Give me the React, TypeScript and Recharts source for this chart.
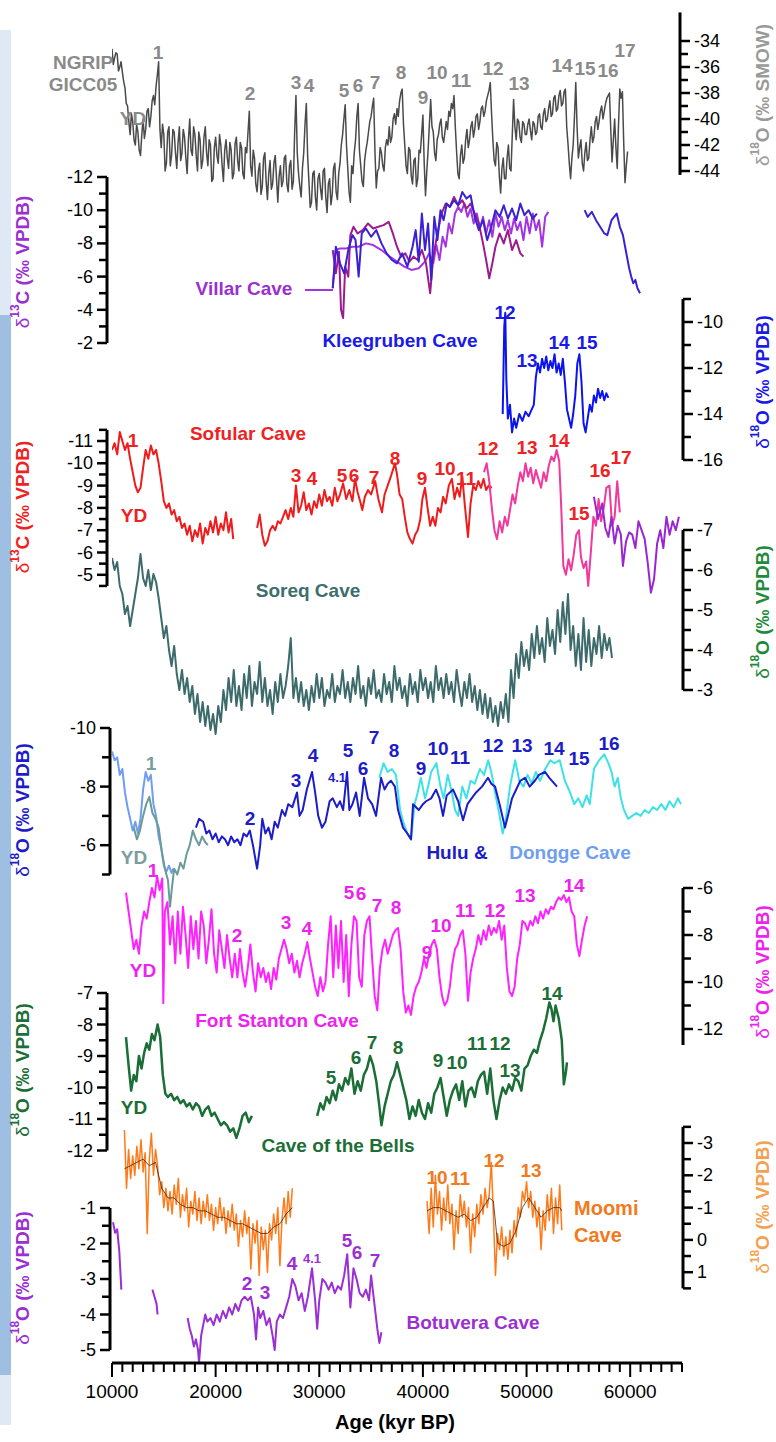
import React from "react";
import { LineChart, Line, XAxis, YAxis, ReferenceLine } from "recharts";

const FONT = '"Liberation Sans", Arial, Helvetica, sans-serif';
const AGE_MIN = 10000;
const AGE_MAX = 65000;
const W = 776;
const H = 1442;
const PLOT_LEFT = 112;
const PLOT_RIGHT = 682;
const Y_AXIS_W = 30;

// ---------- data ----------

// NGRIP GICC05 d18O, every 125 yr from 10 ka
const NGRIP_START = 10000;
const NGRIP_STEP = 125;
const NGRIP_D18O = [
  -34.6, -35.8, -35.3, -34.9, -35.0, -36.3, -36.0, -35.6, -36.4, -37.1, -37.6, -38.8, -39.0, -40.2, -41.2, -39.6,
  -40.2, -41.6, -42.0, -40.4, -41.0, -42.4, -42.8, -41.2, -40.0, -41.5, -40.8, -39.4, -39.2, -40.6, -39.8, -38.6,
  -38.2, -38.9, -37.5, -36.6, -35.6, -40.8, -42.2, -40.4, -41.2, -44.0, -43.4, -41.0, -40.6, -43.6, -42.8, -40.8,
  -41.0, -42.6, -43.8, -41.8, -40.6, -43.2, -42.6, -40.8, -41.4, -43.0, -44.2, -41.6, -40.0, -42.4, -42.8, -40.6,
  -41.2, -42.8, -44.0, -41.0, -41.6, -43.8, -43.2, -41.4, -40.6, -42.6, -43.6, -41.6, -42.0, -44.8, -44.6, -42.2,
  -41.4, -42.8, -43.4, -41.2, -42.0, -43.6, -44.8, -42.4, -41.6, -43.0, -43.8, -41.8, -42.4, -44.6, -44.2, -41.9,
  -41.4, -43.2, -44.0, -41.8, -42.2, -44.2, -44.6, -42.2, -42.6, -41.0, -39.4, -43.6, -44.4, -42.4, -43.0, -45.0,
  -45.6, -44.0, -43.4, -45.8, -45.2, -43.0, -42.6, -44.8, -46.2, -44.2, -43.2, -45.4, -45.0, -43.4, -42.8, -44.6,
  -46.4, -44.4, -43.6, -45.2, -44.8, -43.0, -42.8, -45.0, -45.6, -43.6, -43.2, -45.4, -44.8, -41.0, -38.2, -42.6,
  -44.2, -45.2, -46.0, -43.8, -42.6, -40.4, -38.8, -42.8, -44.8, -46.8, -46.4, -44.2, -44.0, -46.0, -47.0, -44.6,
  -44.2, -45.4, -46.2, -44.0, -43.8, -46.0, -47.2, -45.0, -44.6, -46.6, -45.8, -43.8, -43.4, -45.6, -46.2, -44.2,
  -43.4, -42.0, -41.2, -40.0, -38.9, -42.0, -43.8, -45.6, -46.4, -43.6, -44.2, -42.6, -41.6, -39.8, -38.8, -42.4,
  -43.6, -44.8, -45.2, -43.2, -42.4, -41.8, -41.0, -40.2, -39.8, -39.0, -38.4, -42.6, -45.3, -44.0, -43.8, -42.2,
  -42.6, -43.6, -44.0, -42.2, -41.6, -42.0, -40.6, -41.8, -41.4, -40.0, -39.6, -40.4, -39.2, -39.8, -38.6, -38.0,
  -37.7, -40.4, -42.0, -43.6, -44.2, -42.2, -42.4, -44.4, -45.0, -43.2, -43.0, -45.2, -44.6, -42.4, -42.6, -41.2,
  -39.7, -43.4, -45.9, -44.0, -42.4, -40.4, -38.5, -40.6, -41.0, -42.6, -43.2, -41.6, -41.2, -40.4, -40.0, -41.4,
  -41.8, -41.0, -40.2, -40.8, -39.4, -39.8, -38.8, -39.2, -38.2, -40.6, -42.5, -44.2, -44.6, -42.8, -42.0, -43.4,
  -43.0, -41.6, -40.8, -42.2, -41.6, -40.6, -40.2, -41.4, -40.8, -39.8, -39.6, -40.8, -40.2, -39.2, -39.0, -39.8,
  -39.4, -38.6, -38.2, -37.8, -37.2, -39.6, -41.6, -43.2, -43.6, -41.8, -42.2, -44.4, -45.7, -43.8, -43.0, -44.6,
  -44.6, -43.0, -42.0, -43.8, -44.0, -41.2, -38.5, -40.6, -41.6, -40.0, -40.2, -41.4, -41.8, -40.2, -40.4, -41.2,
  -41.2, -40.4, -40.0, -40.9, -41.6, -40.2, -40.4, -41.2, -41.0, -39.8, -39.6, -40.6, -40.8, -39.6, -39.2, -40.2,
  -40.0, -39.2, -38.6, -39.8, -39.6, -38.4, -38.2, -39.4, -39.2, -38.2, -37.8, -39.0, -38.8, -37.9, -37.7, -40.6,
  -41.9, -43.4, -44.6, -43.0, -42.0, -39.8, -37.2, -40.6, -43.0, -42.2, -41.6, -43.4, -44.0, -42.6, -41.8, -43.2,
  -43.0, -41.6, -40.6, -41.8, -41.4, -40.2, -39.8, -40.8, -40.2, -39.4, -39.0, -40.0, -39.4, -38.8, -38.4, -38.2,
  -38.0, -40.8, -43.3, -41.6, -40.0, -42.2, -43.8, -40.4, -37.7, -38.4, -37.9, -41.8, -44.9, -43.6, -42.5,
];

// Villar Cave d13C (three records)
const VILLAR_SMOOTH: [number, number | null][] = [
  [31300, -5.3], [31600, -7.6], [32000, -7.7], [32600, -7.7], [33200, -7.8], [33800, -7.8],
  [34500, -8.0], [35200, -7.9], [36000, -7.6], [36800, -7.2], [37500, -6.9], [38200, -6.6],
  [38900, -6.4], [39600, -6.5], [40200, -6.9], [40600, -7.4], [41000, -6.8], [41300, -7.9],
  [41600, -7.0], [41900, -8.4], [42200, -7.8], [42500, -9.2], [42800, -8.6], [43100, -9.8],
  [43400, -10.2], [43700, -9.9], [44000, -10.4], [44300, -9.6], [44600, -10.1], [44900, -9.2],
  [45200, -9.8], [45500, -8.9], [45800, -9.6], [46100, -8.6], [46400, -9.4], [46700, -8.4],
  [47000, -9.8], [47300, -9.0], [47600, -9.6], [47900, -8.8], [48200, -9.4], [48500, -8.6],
  [48800, -9.5], [49100, -8.8], [49400, -9.3], [49700, -8.2], [50000, -9.6], [50300, -8.6],
  [50600, -9.8], [50900, -8.8], [51200, -9.4], [51500, -7.8], [51800, -9.6], [52100, -9.9],
];
const VILLAR_MAGENTA: [number, number | null][] = [
  [31300, -7.6], [31600, -6.2], [31900, -7.5], [32100, -4.0], [32300, -3.5], [32500, -6.6],
  [32800, -6.0], [33000, -8.5], [33300, -9.0], [33700, -8.6], [34200, -8.8], [34700, -9.2],
  [35200, -8.9], [35700, -9.0], [36200, -9.1], [36700, -9.3], [37100, -8.6], [37500, -7.8],
  [37900, -7.2], [38300, -7.4], [38700, -6.9], [39100, -7.2], [39500, -7.0], [39900, -7.6],
  [40300, -6.8], [40700, -5.0], [41000, -7.2], [41400, -8.6], [41800, -9.8], [42200, -10.4],
  [42600, -10.2], [43000, -10.8], [43400, -10.3], [43800, -10.6], [44200, -10.1], [44600, -10.4],
  [45000, -9.8], [45400, -9.2], [45800, -8.0], [46100, -7.0], [46400, -5.9], [46700, -6.8],
  [47000, -7.8], [47400, -8.6], [47800, -8.0], [48200, -8.8], [48600, -7.6], [49000, -8.2],
  [49400, -7.4], [49700, -7.2],
];
const VILLAR_BLUE: [number, number | null][] = [
  [31300, -5.3], [31600, -7.8], [32000, -6.8], [32400, -6.2], [32800, -7.6], [33200, -8.5],
  [33500, -8.2], [33800, -6.0], [34100, -8.6], [34500, -8.9], [35000, -8.4], [35500, -8.8],
  [36000, -8.0], [36500, -7.4], [37000, -7.0], [37500, -6.8], [38000, -7.4], [38500, -6.6],
  [39000, -7.8], [39300, -8.8], [39600, -6.9], [39900, -9.8], [40200, -7.6], [40500, -9.2],
  [40800, -5.8], [41100, -9.6], [41400, -8.2], [41700, -10.0], [42000, -9.4], [42300, -10.4],
  [42600, -10.2], [43000, -10.6], [43400, -10.3], [43800, -11.1], [44200, -10.7], [44600, -10.9],
  [45000, -9.6], [45400, -8.8], [45800, -9.4], [46200, -8.2], [46600, -9.0], [47000, -10.0],
  [47400, -9.6], [47800, -10.3], [48200, -9.5], [48600, -10.1], [49000, -9.4], [49400, -10.4],
  [49800, -9.7], [50200, -10.0], [50600, -9.5], [51000, -9.8], [53000, null],
  [55600, -10.0], [55900, -9.6], [56300, -9.9], [56700, -9.4], [57100, -9.0], [57500, -8.6],
  [57800, -8.5], [58200, -9.4], [58700, -9.8], [59000, -9.0], [59300, -8.5], [59600, -7.5],
  [59900, -6.5], [60100, -6.0], [60300, -5.6], [60500, -5.8], [60700, -5.3], [60950, -5.0],
];

// Kleegruben Cave d18O
const KLEEGRUBEN_D18O: [number, number | null][] = [
  [47700, -14.0], [47850, -10.2], [47950, -9.6], [48050, -12.5], [48200, -14.2], [48400, -13.6],
  [48600, -14.8], [48800, -14.2], [49000, -14.6], [49300, -14.0], [49600, -14.3], [49900, -13.9],
  [50200, -14.1], [50500, -13.8], [50700, -13.6], [50900, -12.4], [51100, -11.8], [51300, -12.2],
  [51500, -11.6], [51700, -12.0], [51900, -11.5], [52100, -12.1], [52300, -11.7], [52500, -12.0],
  [52700, -11.4], [52900, -12.2], [53100, -11.8], [53300, -12.3], [53500, -11.6], [53700, -12.6],
  [53900, -13.8], [54100, -14.2], [54300, -14.6], [54500, -14.0], [54700, -13.2], [54900, -11.8],
  [55100, -11.4], [55300, -12.6], [55500, -14.4], [55700, -14.8], [55900, -14.2], [56100, -13.6],
  [56300, -13.9], [56500, -13.2], [56700, -13.5], [56900, -12.9], [57100, -13.3], [57300, -13.0],
  [57500, -13.4], [57700, -13.1], [57900, -13.3],
];

// Sofular Cave d13C
const SOFULAR_RED: [number, number | null][] = [
  [10000, -10.6], [10250, -10.9], [10500, -10.4], [10750, -11.4], [11000, -11.0], [11250, -10.6],
  [11500, -10.9], [11750, -10.2], [12000, -9.6], [12250, -9.0], [12500, -8.7], [12750, -8.9],
  [13000, -9.8], [13250, -10.6], [13500, -10.2], [13750, -10.8], [14000, -10.4], [14250, -10.6],
  [14500, -10.0], [14750, -9.2], [15000, -8.3], [15250, -8.0], [15500, -8.2], [15750, -7.7],
  [16000, -7.9], [16250, -7.4], [16500, -7.6], [16750, -7.1], [17000, -7.3], [17250, -6.8],
  [17500, -7.2], [17750, -6.5], [18000, -7.0], [18250, -6.7], [18500, -7.3], [18750, -6.4],
  [19000, -7.1], [19250, -6.8], [19500, -7.4], [19750, -6.9], [20000, -7.6], [20250, -6.8],
  [20500, -7.3], [20750, -7.0], [21000, -7.8], [21250, -6.9], [21500, -7.5], [21700, -6.6],
  [22500, null],
  [24000, -7.1], [24250, -7.7], [24500, -6.8], [24750, -6.3], [25000, -6.5], [25250, -7.0],
  [25500, -7.2], [25750, -7.0], [26000, -7.4], [26250, -7.3], [26500, -7.6], [26750, -7.9],
  [27000, -7.5], [27250, -8.0], [27500, -7.6], [27750, -9.0], [28000, -7.8], [28250, -8.1],
  [28500, -8.7], [28750, -7.9], [29000, -8.2], [29250, -7.7], [29500, -8.3], [29750, -8.0],
  [30000, -8.6], [30250, -8.1], [30500, -8.8], [30750, -8.3], [31000, -8.5], [31250, -8.1],
  [31500, -8.9], [31750, -8.3], [32000, -8.6], [32300, -9.1], [32600, -8.4], [32900, -8.8],
  [33200, -8.3], [33450, -9.3], [33700, -8.7], [34000, -8.2], [34150, -7.9], [34400, -8.5],
  [34700, -8.8], [35000, -8.6], [35400, -9.2], [35700, -8.4], [36050, -7.8], [36300, -8.6],
  [36600, -9.0], [36900, -9.4], [37100, -9.7], [37300, -10.0], [37500, -9.5], [37750, -8.6],
  [38000, -8.4], [38250, -7.6], [38500, -6.9], [38750, -6.6], [39000, -6.4], [39250, -6.8],
  [39500, -7.0], [39750, -7.5], [39950, -8.4], [40200, -8.9], [40450, -8.0], [40700, -7.2],
  [40950, -7.6], [41200, -7.2], [41450, -8.0], [41700, -7.8], [41950, -8.5], [42200, -8.2],
  [42500, -9.0], [42800, -9.3], [43050, -8.4], [43300, -8.9], [43550, -8.5], [43800, -9.4],
  [44050, -8.1], [44350, -6.7], [44600, -8.2], [44850, -9.0], [45100, -8.8], [45350, -9.2],
  [45600, -8.9], [45850, -9.3], [46100, -8.8], [46350, -9.0], [46650, -8.9],
];
const SOFULAR_PINK: [number, number | null][] = [
  [45900, -9.6], [46150, -10.0], [46400, -9.2], [46650, -8.0], [46900, -7.0], [47150, -6.6],
  [47400, -7.4], [47650, -6.9], [47900, -7.6], [48150, -7.2], [48400, -7.9], [48650, -8.6],
  [48900, -8.2], [49150, -9.0], [49400, -9.6], [49650, -9.2], [49900, -10.0], [50150, -9.4],
  [50400, -9.8], [50650, -9.1], [50900, -9.7], [51150, -9.3], [51400, -8.9], [51650, -9.6],
  [51900, -9.2], [52150, -9.9], [52400, -10.3], [52650, -10.1], [52900, -10.6], [53150, -10.1],
  [53350, -8.0], [53550, -5.4], [53800, -5.0], [54050, -5.7], [54300, -5.2], [54550, -5.9],
  [54800, -6.8], [55050, -7.0], [55250, -5.8], [55500, -5.3], [55750, -5.6], [55950, -4.5],
  [56200, -6.0], [56450, -7.6], [56700, -7.2], [56950, -8.4], [57200, -7.4], [57450, -8.0],
  [57700, -8.9], [58000, -9.0], [58250, -7.2], [58500, -7.6], [58750, -9.2], [59000, -7.8],
];
const SOFULAR_PURPLE: [number, number | null][] = [
  [56500, -8.5], [56900, -7.5], [57300, -8.2], [57600, -7.1], [57900, -6.7], [58200, -7.6],
  [58500, -6.4], [58800, -7.2], [59100, -6.8], [59300, -5.4], [59600, -6.5], [59900, -6.9],
  [60200, -6.8], [60500, -6.2], [60800, -7.4], [61100, -7.0], [61400, -6.6], [61700, -5.5],
  [62000, -4.2], [62300, -4.8], [62600, -6.4], [62900, -7.0], [63200, -6.2], [63500, -7.6],
  [63800, -6.8], [64100, -7.4], [64400, -7.0], [64700, -7.6],
];

// Soreq Cave d18O, every 250 yr from 10 ka
const SOREQ_START = 10000;
const SOREQ_STEP = 250;
const SOREQ_D18O = [
  -6.3, -6.0, -6.2, -5.6, -5.4, -4.9, -5.1, -4.6,
  -5.0, -5.4, -5.8, -6.4, -5.8, -5.6, -6.0, -5.5,
  -5.9, -5.7, -5.3, -4.8, -4.3, -4.6, -4.0, -3.6,
  -4.1, -3.4, -3.0, -3.5, -2.9, -3.3, -2.7, -3.1,
  -2.4, -2.9, -2.2, -2.7, -2.1, -2.6, -2.0, -2.4,
  -1.9, -2.6, -2.2, -3.0, -2.5, -3.3, -2.7, -3.5,
  -2.6, -3.1, -2.5, -3.4, -2.8, -3.6, -2.6, -3.2,
  -2.9, -3.7, -2.7, -3.3, -2.6, -3.0, -2.4, -3.2,
  -2.7, -3.4, -2.8, -3.1, -3.6, -4.3, -2.8, -3.3,
  -2.7, -3.2, -2.6, -3.0, -2.5, -3.1, -2.7, -3.4,
  -2.8, -3.3, -2.6, -3.0, -2.8, -3.4, -2.7, -3.1,
  -2.9, -3.5, -2.8, -3.2, -2.7, -3.3, -2.9, -3.6,
  -2.8, -3.1, -2.6, -3.3, -2.9, -3.5, -2.8, -3.0,
  -2.7, -3.4, -2.9, -3.2, -2.7, -3.6, -3.0, -3.3,
  -2.8, -3.1, -2.6, -3.4, -2.9, -3.2, -2.7, -3.5,
  -3.0, -3.3, -2.8, -3.2, -2.7, -3.6, -3.0, -3.3,
  -2.8, -3.4, -2.9, -3.2, -2.7, -3.5, -3.0, -2.6,
  -3.2, -2.8, -3.4, -2.7, -3.1, -2.5, -3.0, -2.4,
  -2.9, -2.3, -2.8, -2.2, -2.6, -2.1, -2.7, -2.3,
  -2.9, -2.2, -3.5, -2.8, -3.9, -3.3, -4.2, -3.6,
  -4.0, -3.5, -4.4, -3.8, -4.6, -3.9, -4.3, -3.7,
  -4.8, -4.1, -4.5, -3.9, -5.0, -4.2, -5.2, -4.4,
  -5.4, -4.0, -4.6, -3.6, -4.4, -3.5, -4.8, -3.7,
  -4.5, -3.6, -4.3, -3.9, -4.6, -3.8, -4.4, -4.0,
  -4.3, -3.8,
];

// Hulu & Dongge Cave d18O
const DONGGE_D18O: [number, number | null][] = [
  [10000, -9.2], [10250, -8.9], [10500, -9.0], [10750, -8.4], [11000, -8.6], [11250, -7.8],
  [11500, -7.3], [11750, -6.9], [12000, -6.5], [12250, -6.8], [12500, -6.4], [12750, -6.9],
  [13000, -7.9], [13250, -8.5], [13500, -8.2], [13750, -8.4], [14000, -7.4], [14250, -7.0],
  [14500, -6.3], [14750, -5.9], [15000, -5.3], [15250, -5.1], [15500, -5.3], [15750, -5.05],
  [15900, -5.2],
];
const DONGGE_OLD_D18O: [number, number | null][] = [
  [12100, -6.6], [12400, -6.2], [12700, -6.5], [13000, -7.0], [13300, -7.4], [13600, -7.65],
  [13900, -7.1], [14200, -6.9], [14500, -6.6], [14800, -5.8], [15100, -5.2], [15400, -4.8],
  [15600, -3.9], [15800, -4.6], [16000, -5.2], [16300, -5.0], [16600, -5.4], [16900, -5.2],
  [17200, -5.7], [17500, -6.0], [17800, -6.5], [18100, -6.2], [18400, -6.0], [18700, -6.3],
  [19000, -6.1], [19250, -6.0],
];
const HULU_D18O: [number, number | null][] = [
  [18100, -6.6], [18400, -6.9], [18800, -6.8], [19100, -6.4], [19400, -6.5], [19700, -6.2],
  [20000, -6.4], [20300, -6.1], [20600, -6.3], [20900, -6.2], [21200, -6.0], [21500, -6.3],
  [21800, -6.1], [22100, -6.2], [22400, -6.0], [22700, -6.4], [23000, -6.3], [23300, -6.5],
  [23600, -6.0], [24000, -5.2], [24300, -6.0], [24500, -6.9], [24800, -6.4], [25100, -6.6],
  [25400, -6.2], [25700, -6.8], [26000, -6.6], [26400, -7.2], [26700, -7.0], [27000, -7.4],
  [27400, -7.3], [27850, -7.8], [28100, -7.0], [28400, -7.2], [28800, -7.9], [29300, -8.5],
  [29600, -7.8], [29900, -7.0], [30260, -6.6], [30600, -6.8], [31000, -7.5], [31300, -7.6],
  [31700, -7.3], [32000, -7.5], [32300, -7.2], [32680, -8.5], [32900, -7.2], [33200, -7.4],
  [33550, -7.8], [33900, -7.0], [34320, -8.3], [34700, -7.6], [35100, -7.4], [35480, -7.0],
  [35960, -8.3], [36300, -7.9], [36600, -8.1], [36920, -8.2], [37300, -8.0], [37600, -7.2],
  [38080, -6.6], [38500, -6.4], [38850, -6.2], [39050, -7.4], [39600, -7.2], [40000, -7.4],
  [40300, -7.5], [40800, -7.6], [41270, -7.9], [41600, -7.6], [41940, -7.0], [42300, -7.7],
  [42910, -7.9], [43400, -7.5], [43870, -6.85], [44300, -7.4], [44700, -7.6], [45130, -7.8],
  [45700, -8.0], [46280, -8.3], [46600, -8.1], [46960, -8.0], [47400, -7.4], [47920, -6.6],
  [48200, -7.0], [48600, -7.6], [49000, -7.9], [49400, -8.2], [49850, -8.3], [50300, -8.0],
  [50800, -8.2], [51200, -8.4], [51780, -8.5], [52200, -8.3], [52940, -8.0],
];
const DONGGE_LONG_D18O: [number, number | null][] = [
  [35800, -8.3], [36200, -8.8], [36600, -8.5], [37000, -8.6], [37400, -8.4], [37800, -7.2],
  [38100, -6.8], [38500, -6.4], [38850, -6.2], [39200, -7.4], [39500, -7.8], [39800, -8.3],
  [40200, -7.6], [40500, -8.0], [40800, -8.5], [41300, -8.8], [41700, -8.0], [42000, -7.6],
  [42400, -8.4], [42800, -7.8], [43100, -7.2], [43400, -7.0], [43800, -8.0], [44200, -7.6],
  [44600, -8.2], [45000, -8.1], [45500, -8.6], [45900, -8.4], [46300, -8.9], [46600, -8.5],
  [46960, -7.8], [47400, -7.0], [47700, -6.4], [48000, -6.9], [48400, -8.0], [48900, -8.9],
  [49300, -8.2], [49700, -8.0], [50100, -8.4], [50500, -8.1], [50900, -8.5], [51300, -8.2],
  [51800, -8.6], [52300, -8.9], [52700, -8.8], [53200, -8.9], [53700, -8.2], [54200, -7.8],
  [54600, -7.4], [55000, -7.6], [55400, -7.3], [55800, -7.7], [56100, -7.4], [56500, -8.6],
  [57000, -8.9], [57500, -9.1], [57900, -8.8], [58200, -8.5], [58500, -8.0], [58800, -8.3],
  [59100, -7.6], [59400, -7.2], [59800, -6.9], [60200, -7.0], [60600, -7.1], [61000, -7.0],
  [61400, -7.2], [61800, -7.1], [62200, -7.3], [62600, -7.2], [63000, -7.4], [63400, -7.2],
  [63800, -7.5], [64200, -7.3], [64600, -7.6], [64900, -7.4],
];

// Fort Stanton Cave d18O
const FORT_STANTON_D18O: [number, number | null][] = [
  [11350, -6.2], [11600, -7.0], [11850, -7.8], [12100, -8.6], [12350, -8.2], [12600, -8.8],
  [12850, -7.6], [13100, -7.0], [13350, -7.3], [13600, -6.6], [13850, -6.0], [14100, -6.4],
  [14350, -5.5], [14600, -6.1], [14850, -5.6], [14950, -10.9], [15100, -7.0], [15350, -6.6],
  [15600, -8.4], [15850, -7.2], [16100, -9.2], [16350, -7.0], [16600, -8.8], [16850, -6.8],
  [17100, -8.0], [17350, -9.4], [17600, -7.2], [17850, -8.6], [18100, -7.4], [18350, -9.0],
  [18600, -7.0], [18850, -7.6], [19100, -9.2], [19350, -8.2], [19600, -6.9], [19850, -8.8],
  [20100, -9.6], [20350, -7.8], [20600, -8.6], [20850, -9.4], [21100, -8.0], [21350, -9.0],
  [21600, -9.8], [21850, -8.8], [22100, -9.8], [22350, -8.6], [22600, -9.6], [22850, -10.2],
  [23100, -9.4], [23350, -8.4], [23600, -9.6], [23850, -10.4], [24100, -9.2], [24350, -9.8],
  [24600, -9.4], [24850, -10.0], [25100, -9.6], [25350, -10.3], [25600, -9.4], [25850, -9.9],
  [26100, -9.0], [26350, -8.6], [26600, -8.2], [26850, -8.6], [27100, -9.2], [27350, -8.8],
  [27600, -9.6], [27850, -9.1], [28100, -9.8], [28350, -9.2], [28600, -8.8], [28850, -8.3],
  [29100, -9.0], [29350, -9.6], [29600, -10.2], [29850, -10.6], [30100, -9.8], [30350, -10.4],
  [30600, -10.0], [30850, -8.4], [31100, -7.2], [31350, -9.8], [31600, -7.6], [31850, -9.4],
  [32100, -7.4], [32350, -10.0], [32600, -8.0], [32850, -10.6], [33100, -8.4], [33350, -7.2],
  [33600, -7.4], [33850, -9.8], [34100, -10.2], [34350, -8.0], [34600, -7.4], [34850, -7.2],
  [35100, -9.0], [35350, -10.6], [35600, -11.2], [35850, -9.4], [36100, -8.6], [36350, -8.2],
  [36600, -8.8], [36850, -8.4], [37100, -8.0], [37350, -7.8], [37600, -7.7], [37850, -8.6],
  [38100, -10.4], [38350, -11.3], [38600, -11.0], [38850, -11.4], [39100, -10.6], [39350, -10.2],
  [39600, -10.0], [39850, -9.6], [40100, -9.0], [40350, -9.4], [40600, -8.8], [40850, -8.4],
  [41100, -8.2], [41350, -8.6], [41600, -9.8], [41850, -10.6], [42100, -11.0], [42350, -10.8],
  [42600, -10.2], [42850, -9.2], [43100, -8.6], [43350, -8.4], [43600, -8.0], [43850, -7.8],
  [44100, -8.8], [44350, -10.8], [44600, -9.6], [44850, -9.0], [45100, -8.6], [45350, -8.0],
  [45600, -8.4], [45850, -7.8], [46100, -8.2], [46350, -7.6], [46600, -8.0], [46850, -7.7],
  [47100, -7.9], [47350, -7.4], [47600, -8.2], [47850, -7.6], [48100, -9.4], [48350, -10.4],
  [48600, -10.6], [48850, -10.2], [49100, -9.0], [49350, -8.4], [49600, -7.4], [49850, -7.5],
  [50100, -7.8], [50350, -7.4], [50600, -7.6], [50850, -7.2], [51100, -7.5], [51350, -7.0],
  [51600, -7.3], [51850, -6.9], [52100, -7.1], [52350, -6.8], [52600, -6.9], [52850, -6.6],
  [53100, -6.4], [53350, -6.5], [53600, -6.3], [53850, -6.6], [54100, -6.4], [54350, -7.0],
  [54600, -7.2], [54850, -8.4], [55100, -8.9], [55350, -8.2], [55600, -7.6], [55850, -7.2],
];

// Cave of the Bells d18O
const BELLS_D18O: [number, number | null][] = [
  [11350, -8.4], [11600, -9.3], [11850, -10.1], [12100, -9.6], [12350, -9.8], [12600, -9.0],
  [12850, -9.4], [13100, -8.9], [13350, -8.6], [13600, -8.8], [13850, -8.3], [14100, -8.5],
  [14400, -8.0], [14650, -8.4], [14900, -9.6], [15150, -10.2], [15400, -10.3], [15700, -10.2],
  [16000, -10.4], [16300, -10.3], [16600, -10.5], [16900, -10.4], [17200, -10.6], [17500, -10.5],
  [17800, -10.7], [18100, -10.5], [18400, -10.6], [18700, -10.9], [19000, -10.7], [19300, -10.6],
  [19600, -10.9], [19900, -10.8], [20200, -11.0], [20500, -11.2], [20800, -11.1], [21100, -11.2],
  [21400, -11.4], [21700, -11.3], [22000, -11.6], [22300, -11.3], [22600, -10.9], [22900, -10.8],
  [23200, -11.1], [23500, -10.9], [26000, null],
  [29800, -10.9], [30100, -10.5], [30400, -10.7], [30700, -10.3], [31000, -10.5], [31300, -10.1],
  [31600, -10.4], [31900, -9.9], [32200, -10.1], [32500, -9.7], [32800, -9.9], [33100, -9.4],
  [33400, -10.2], [33700, -9.8], [34000, -10.1], [34300, -9.6], [34600, -9.4], [34900, -9.0],
  [35200, -9.3], [35500, -9.8], [35800, -10.6], [36000, -11.2], [36300, -10.6], [36600, -10.2],
  [36900, -9.8], [37200, -9.6], [37500, -9.2], [37800, -9.6], [38100, -10.0], [38400, -10.4],
  [38700, -11.0], [39000, -10.6], [39300, -10.9], [39600, -10.4], [39900, -10.8], [40200, -11.0],
  [40500, -10.5], [40800, -10.8], [41100, -10.2], [41400, -10.0], [41700, -9.7], [42000, -10.3],
  [42300, -10.9], [42600, -10.4], [42900, -10.1], [43200, -9.9], [43500, -10.4], [43800, -9.8],
  [44100, -10.6], [44400, -10.1], [44700, -10.0], [45000, -10.3], [45300, -9.8], [45600, -9.6],
  [45900, -9.5], [46200, -10.2], [46500, -9.4], [46800, -10.4], [47100, -11.0], [47400, -10.4],
  [47700, -10.0], [48000, -10.2], [48300, -9.9], [48600, -10.1], [48900, -9.7], [49200, -9.8],
  [49500, -10.1], [49800, -9.4], [50100, -9.3], [50400, -9.0], [50700, -8.8], [51000, -8.9],
  [51300, -8.5], [51600, -8.2], [51900, -7.8], [52200, -7.3], [52400, -7.5], [52600, -7.9],
  [52800, -7.4], [53100, -7.8], [53400, -8.5], [53600, -9.9], [53800, -9.5], [53900, -9.2],
];

// Moomi Cave d18O (raw every 200 yr, two sections) and running mean
const MOOMI_A_START = 11200;
const MOOMI_B_START = 40400;
const MOOMI_STEP = 200;
const MOOMI_A_D18O = [
  -3.4, -1.6, -2.8, -1.9, -2.6, -2.0, -2.9, -2.2, -3.1, -2.1,
  -2.7, -0.2, -2.5, -3.3, -2.0, -2.8, -2.3, -1.4, -1.8, -1.0,
  -1.6, -0.9, -1.5, -0.8, -1.7, -1.1, -1.9, -0.7, -1.4, -0.9,
  -1.6, -0.4, -1.2, -0.8, -1.5, -0.6, -1.3, -0.5, -1.2, -0.7,
  -1.4, -0.6, -1.1, -0.3, -1.0, -0.5, -1.3, -0.6, -1.0, -0.2,
  -0.9, -0.4, -1.1, -0.3, -0.8, 0.2, -0.6, -0.1, -0.9, -0.2,
  -0.7, 0.9, -0.5, 0.1, -0.6, 1.1, -0.4, 0.3, -0.3, 1.0,
  -0.5, 0.0, -0.8, -0.2, -1.0, 0.8, -0.6, -1.3, -0.5, -1.5,
  -0.7, -1.6,
];
const MOOMI_B_D18O = [
  -1.2, -0.2, -1.6, -0.4, -2.0, -0.8, -1.5, -0.3, -1.3, -0.6,
  -1.7, -0.5, -1.1, 0.3, -0.9, -0.2, -1.4, -0.7, -1.2, -0.4,
  -1.0, 0.4, -0.8, -0.1, -1.1, -0.5, -1.4, -0.8, -1.6, -1.0,
  -1.4, -2.4, -0.8, 1.1, -0.2, 0.3, -0.4, 0.5, -0.1, 0.6,
  -0.3, 0.4, -0.6, -0.1, -1.0, -0.7, -1.5, -1.2, -1.8, -1.0,
  -1.5, -0.7, -1.2, -0.4, -1.0, 0.3, -0.9, -0.3, -1.4, -0.6,
  -1.6, -0.2, -1.3, -0.5, -1.7, -0.3,
];
const MOOMI_MEAN: [number, number | null][] = [
  [11200, -2.2], [11800, -2.3], [12400, -2.4], [13000, -2.5], [13600, -2.3], [14200, -2.4],
  [14800, -1.6], [15400, -1.3], [16000, -1.3], [16600, -1.1], [17200, -1.0], [17800, -1.0],
  [18400, -0.9], [19000, -0.9], [19600, -0.8], [20200, -0.7], [20800, -0.7], [21400, -0.6],
  [22000, -0.5], [22600, -0.5], [23200, -0.4], [23800, -0.3], [24400, -0.2], [25000, -0.2],
  [25600, -0.4], [26200, -0.5], [26800, -0.8], [27400, -1.0], [34000, null],
  [40400, -0.9], [41000, -1.0], [41600, -1.0], [42200, -0.9], [42800, -0.8], [43400, -0.7],
  [44000, -0.8], [44600, -0.6], [45200, -0.7], [45800, -1.0], [46400, -1.3], [46800, -1.2],
  [47200, 0.1], [47800, 0.2], [48400, 0.1], [49000, -0.3], [49600, -1.0], [50200, -1.3],
  [50800, -1.0], [51400, -0.7], [52000, -0.9], [52600, -1.0], [53200, -1.0], [53400, -0.9],
];

// Botuvera Cave d18O
const BOTUVERA_D18O: [number, number | null][] = [
  [10100, -1.4], [10300, -1.7], [10500, -1.6], [10700, -2.2], [10900, -3.3], [12000, null],
  [13900, -3.3], [14100, -3.5], [14300, -3.7], [14400, -4.0], [16000, null],
  [17300, -4.1], [17500, -4.4], [17700, -4.6], [17900, -4.9], [18100, -4.7], [18300, -5.0],
  [18400, -5.35], [18600, -4.6], [18800, -4.3], [19000, -4.0], [19200, -4.2], [19500, -4.1],
  [19800, -4.3], [20100, -4.0], [20400, -4.2], [20700, -3.9], [21000, -4.1], [21300, -3.8],
  [21600, -4.0], [21900, -3.7], [22200, -3.9], [22500, -3.6], [22800, -3.5], [23100, -3.6],
  [23400, -3.5], [23700, -4.0], [23900, -4.7], [24100, -3.8], [24300, -4.1], [24600, -3.9],
  [24900, -4.3], [25200, -4.1], [25500, -4.6], [25700, -5.0], [25900, -4.2], [26200, -4.0],
  [26500, -4.1], [26800, -3.8], [27100, -3.5], [27400, -3.0], [27700, -3.2], [28000, -3.6],
  [28300, -3.4], [28600, -3.9], [28900, -3.5], [29300, -2.7], [29600, -3.6], [29800, -4.4],
  [30000, -3.6], [30300, -3.0], [30600, -3.1], [30900, -3.3], [31200, -3.1], [31500, -3.4],
  [31800, -3.2], [32100, -3.3], [32400, -2.9], [32700, -2.3], [33000, -3.8], [33300, -2.7],
  [33600, -3.0], [33900, -3.4], [34200, -3.5], [34500, -3.3], [34800, -3.6], [35000, -2.9],
  [35200, -3.4], [35400, -3.9], [35600, -4.4], [35800, -4.8], [36000, -4.5],
];

const X_TICKS_MAJOR = [10000, 20000, 30000, 40000, 50000, 60000];

// ---------- helpers ----------
type Pt = { age: number; v: number | null };
const evenly = (start: number, step: number, vals: (number | null)[]): Pt[] =>
  vals.map((v, i) => ({ age: start + i * step, v }));
const fromPairs = (list: [number, number | null][]): Pt[] => list.map(([age, v]) => ({ age, v }));
const steps = (a: number, b: number, s: number) => {
  const out: number[] = [];
  const n = Math.round(Math.abs(b - a) / Math.abs(s));
  for (let i = 0; i <= n; i++) out.push(Math.round((a + i * s) * 10) / 10);
  return out;
};
const pxToAge = (px: number) =>
  AGE_MIN + ((px - PLOT_LEFT) / (PLOT_RIGHT - PLOT_LEFT)) * (AGE_MAX - AGE_MIN);

interface SeriesDef { data: Pt[]; color: string; width: number }
interface PanelDef {
  id: string;
  side: "left" | "right";
  axisPx: number;
  anchor: [number, number];
  ppu: number;
  reversed: boolean;
  top: number;
  bottom: number;
  ticks: number[];
  labelled: number[];
  line: [number, number];
  series: SeriesDef[];
  xAxis?: boolean;
}

const PANELS: PanelDef[] = [
  {
    id: "ngrip", side: "right", axisPx: 680, anchor: [-34, 41], ppu: 13.0, reversed: false,
    top: 0, bottom: 235, ticks: steps(-34, -44, -1), labelled: [-34, -36, -38, -40, -42, -44],
    line: [-31.8, -44.3],
    series: [{ data: evenly(NGRIP_START, NGRIP_STEP, NGRIP_D18O), color: "#4a4a4a", width: 1.5 }],
  },
  {
    id: "villar", side: "left", axisPx: 107, anchor: [-12, 177], ppu: 16.6, reversed: true,
    top: 150, bottom: 370, ticks: steps(-12, -2, 1), labelled: [-12, -10, -8, -6, -4, -2],
    line: [-12, -2],
    series: [
      { data: fromPairs(VILLAR_SMOOTH), color: "#a334e0", width: 2 },
      { data: fromPairs(VILLAR_MAGENTA), color: "#9c1c8e", width: 2 },
      { data: fromPairs(VILLAR_BLUE), color: "#3a22d4", width: 2 },
    ],
  },
  {
    id: "klee", side: "right", axisPx: 683, anchor: [-10, 322], ppu: 23, reversed: false,
    top: 280, bottom: 480, ticks: steps(-9, -16, -1), labelled: [-10, -12, -14, -16],
    line: [-9, -16],
    series: [{ data: fromPairs(KLEEGRUBEN_D18O), color: "#0c14ee", width: 2 }],
  },
  {
    id: "sofular", side: "left", axisPx: 107, anchor: [-11, 441], ppu: 22.3, reversed: true,
    top: 400, bottom: 650, ticks: steps(-11.5, -4.5, 0.5), labelled: [-11, -10, -9, -8, -7, -6, -5],
    line: [-11.5, -4.5],
    series: [
      { data: fromPairs(SOFULAR_RED), color: "#ee1c1c", width: 2 },
      { data: fromPairs(SOFULAR_PINK), color: "#f2389c", width: 2 },
      { data: fromPairs(SOFULAR_PURPLE), color: "#9a26d2", width: 2 },
    ],
  },
  {
    id: "soreq", side: "right", axisPx: 683, anchor: [-7, 530], ppu: 40, reversed: true,
    top: 500, bottom: 800, ticks: steps(-7, -3, 0.5), labelled: [-7, -6, -5, -4, -3],
    line: [-7, -3],
    series: [{ data: evenly(SOREQ_START, SOREQ_STEP, SOREQ_D18O), color: "#3d6b6b", width: 2 }],
  },
  {
    id: "hulu", side: "left", axisPx: 110, anchor: [-10, 728], ppu: 29.3, reversed: true,
    top: 700, bottom: 935, ticks: steps(-10, -5, 1), labelled: [-10, -8, -6],
    line: [-10, -5],
    series: [
      { data: fromPairs(DONGGE_D18O), color: "#6e9ef0", width: 2 },
      { data: fromPairs(DONGGE_OLD_D18O), color: "#6c9a9a", width: 2 },
      { data: fromPairs(DONGGE_LONG_D18O), color: "#3ee2e6", width: 2 },
      { data: fromPairs(HULU_D18O), color: "#1c1cc8", width: 2 },
    ],
  },
  {
    id: "fort", side: "right", axisPx: 683, anchor: [-6, 888], ppu: 23.5, reversed: false,
    top: 850, bottom: 1045, ticks: steps(-6, -13, -1), labelled: [-6, -8, -10, -12],
    line: [-6, -13],
    series: [{ data: fromPairs(FORT_STANTON_D18O), color: "#ff22ff", width: 2 }],
  },
  {
    id: "bells", side: "left", axisPx: 107, anchor: [-7, 993], ppu: 31.5, reversed: false,
    top: 970, bottom: 1170, ticks: steps(-7, -12, -0.5), labelled: [-7, -8, -9, -10, -11, -12],
    line: [-7, -12],
    series: [{ data: fromPairs(BELLS_D18O), color: "#1b6e35", width: 2.5 }],
  },
  {
    id: "moomi", side: "right", axisPx: 683, anchor: [-3, 1143], ppu: 32.3, reversed: true,
    top: 1100, bottom: 1300, ticks: steps(-3.5, 1.5, 0.5), labelled: [-3, -2, -1, 0, 1],
    line: [-3.5, 1.5],
    series: [
      { data: evenly(MOOMI_A_START, MOOMI_STEP, MOOMI_A_D18O), color: "#ff7a1a", width: 1.5 },
      { data: evenly(MOOMI_B_START, MOOMI_STEP, MOOMI_B_D18O), color: "#ff7a1a", width: 1.5 },
      { data: fromPairs(MOOMI_MEAN), color: "#3b2410", width: 0.8 },
    ],
  },
  {
    id: "botuvera", side: "left", axisPx: 110, anchor: [-1, 1208], ppu: 35.5, reversed: false,
    top: 1190, bottom: 1363, ticks: steps(-1, -5, -0.5), labelled: [-1, -2, -3, -4, -5],
    line: [-1, -5],
    series: [{ data: fromPairs(BOTUVERA_D18O), color: "#9a2fd4", width: 2 }],
    xAxis: true,
  },
];

// ---------- annotations ----------
type Mark = [string, number, number];
interface MarkGroup { color: string; size: number; marks: Mark[]; anchor?: "start" | "middle" }

const MARK_GROUPS: MarkGroup[] = [
  { color: "#8a8a8a", size: 19, marks: [["NGRIP", 83, 62], ["GICC05", 83, 84]] },
  {
    color: "#8a8a8a", size: 19,
    marks: [["YD", 133, 118], ["1", 158, 52], ["2", 250, 93], ["3", 296, 82], ["4", 309, 85], ["5", 344, 90],
      ["6", 358, 85], ["7", 375, 82], ["8", 401, 72], ["9", 423, 97], ["10", 437, 72], ["11", 461, 80],
      ["12", 493, 68], ["13", 519, 83], ["14", 562, 65], ["15", 585, 68], ["16", 608, 70], ["17", 625, 50]],
  },
  { color: "#9b30d0", size: 19, marks: [["Villar Cave", 244, 288]] },
  {
    color: "#1a1ae8", size: 19,
    marks: [["Kleegruben Cave", 400, 340], ["12", 505, 312], ["13", 527, 360], ["14", 559, 342], ["15", 587, 342]],
  },
  {
    color: "#ee2222", size: 19,
    marks: [["Sofular Cave", 248, 433], ["1", 133, 440], ["YD", 134, 515], ["3", 296, 475], ["4", 312, 478],
      ["5", 342, 475], ["6", 354, 475], ["7", 374, 477], ["8", 395, 458], ["9", 422, 478], ["10", 445, 468],
      ["11", 466, 478], ["12", 488, 448], ["13", 527, 447], ["14", 559, 440], ["15", 579, 513], ["16", 600, 470],
      ["17", 621, 457]],
  },
  { color: "#3d6e6e", size: 19, marks: [["Soreq Cave", 308, 590]] },
  {
    color: "#1c1cc8", size: 19,
    marks: [["2", 250, 818], ["3", 296, 780], ["4", 313, 755], ["5", 348, 750], ["6", 363, 768], ["7", 374, 737],
      ["8", 394, 750], ["9", 421, 768], ["10", 438, 748], ["11", 460, 757], ["12", 493, 745], ["13", 522, 745],
      ["14", 554, 748], ["15", 579, 758], ["16", 609, 743], ["Hulu &", 457, 852]],
  },
  { color: "#1c1cc8", size: 13, marks: [["4.1", 337, 777]] },
  { color: "#6e9ef0", size: 19, marks: [["Dongge Cave", 570, 852]] },
  { color: "#7a9e9e", size: 19, marks: [["1", 151, 763], ["YD", 134, 857]] },
  {
    color: "#ee22ee", size: 19,
    marks: [["1", 153, 870], ["YD", 143, 970], ["2", 237, 935], ["3", 286, 922], ["4", 307, 928], ["5", 349, 892],
      ["6", 361, 893], ["7", 377, 905], ["8", 396, 907], ["9", 427, 952], ["10", 441, 925], ["11", 465, 910],
      ["12", 495, 910], ["13", 525, 895], ["14", 574, 885], ["Fort Stanton Cave", 277, 1020]],
  },
  {
    color: "#1b6e35", size: 19,
    marks: [["YD", 134, 1107], ["5", 331, 1077], ["6", 356, 1057], ["7", 372, 1042], ["8", 398, 1047],
      ["9", 438, 1060], ["10", 457, 1062], ["11", 477, 1043], ["12", 500, 1043], ["13", 510, 1070],
      ["14", 552, 993], ["Cave of the Bells", 338, 1145]],
  },
  {
    color: "#f07a1e", size: 19,
    marks: [["10", 437, 1177], ["11", 460, 1178], ["12", 494, 1160], ["13", 531, 1170]],
  },
  { color: "#f07a1e", size: 20, anchor: "start", marks: [["Moomi", 574, 1208], ["Cave", 574, 1235]] },
  {
    color: "#9a2fd4", size: 19,
    marks: [["2", 247, 1283], ["3", 265, 1292], ["4", 292, 1263], ["5", 347, 1240], ["6", 357, 1252],
      ["7", 375, 1260], ["Botuvera Cave", 473, 1322]],
  },
  { color: "#9a2fd4", size: 13, marks: [["4.1", 312, 1258]] },
];

interface TitleDef { x: number; y: number; color: string; iso: string; rest: string }
const AXIS_TITLES: TitleDef[] = [
  { x: 762, y: 95, color: "#9a9a9a", iso: "18", rest: "O (‰ SMOW)" },
  { x: 22, y: 262, color: "#9b30d0", iso: "13", rest: "C (‰ VPDB)" },
  { x: 762, y: 382, color: "#1a1ae8", iso: "18", rest: "O (‰ VPDB)" },
  { x: 22, y: 507, color: "#ee2222", iso: "13", rest: "C (‰ VPDB)" },
  { x: 762, y: 612, color: "#1f8a3c", iso: "18", rest: "O (‰ VPDB)" },
  { x: 22, y: 810, color: "#1c1cc8", iso: "18", rest: "O (‰ VPDB)" },
  { x: 762, y: 972, color: "#ee22ee", iso: "18", rest: "O (‰ VPDB)" },
  { x: 22, y: 1070, color: "#1b6e35", iso: "18", rest: "O (‰ VPDB)" },
  { x: 762, y: 1207, color: "#f5a050", iso: "18", rest: "O (‰ VPDB)" },
  { x: 22, y: 1278, color: "#9a2fd4", iso: "18", rest: "O (‰ VPDB)" },
];

// ---------- components ----------
function makeYTick(axisPx: number, side: "left" | "right", labelled: number[]) {
  const dir = side === "left" ? -1 : 1;
  return (props: any) => {
    const { y, payload } = props;
    const v = payload.value as number;
    const lab = labelled.some((l) => Math.abs(l - v) < 1e-6);
    const len = lab ? 10 : 8;
    return (
      <g>
        <line x1={axisPx} x2={axisPx + dir * len} y1={y} y2={y} stroke="#000" strokeWidth={2.5} />
        {lab && (
          <text
            x={axisPx + dir * (len + 4)}
            y={y}
            textAnchor={side === "left" ? "end" : "start"}
            dominantBaseline="central"
            fontSize={18}
            fontFamily={FONT}
            fill="#000"
          >
            {v}
          </text>
        )}
      </g>
    );
  };
}

function makeXTick(axisY: number) {
  return (props: any) => {
    const { x, payload } = props;
    const v = payload.value as number;
    const major = X_TICKS_MAJOR.includes(v);
    return (
      <g>
        <line x1={x} x2={x} y1={axisY} y2={axisY + (major ? 14 : 9)} stroke="#000" strokeWidth={2} />
        {major && (
          <text x={x} y={axisY + 28} textAnchor="middle" dominantBaseline="central" fontSize={19} fontFamily={FONT} fill="#000">
            {v}
          </text>
        )}
      </g>
    );
  };
}

function Panel({ p }: { p: PanelDef }) {
  const valueAt = (y: number) =>
    p.reversed ? p.anchor[0] + (y - p.anchor[1]) / p.ppu : p.anchor[0] - (y - p.anchor[1]) / p.ppu;
  const a = valueAt(p.top);
  const b = valueAt(p.bottom);
  const domain: [number, number] = [Math.min(a, b), Math.max(a, b)];
  const plotH = p.bottom - p.top;
  const extra = p.xAxis ? 80 : 0;
  const axisAge = pxToAge(p.axisPx);
  const xTicks = steps(AGE_MIN, AGE_MAX, 1000);
  const margin =
    p.side === "left"
      ? { top: 0, bottom: 0, left: PLOT_LEFT - Y_AXIS_W, right: W - PLOT_RIGHT }
      : { top: 0, bottom: 0, left: PLOT_LEFT, right: W - PLOT_RIGHT - Y_AXIS_W };
  return (
    <div style={{ position: "absolute", left: 0, top: p.top }}>
      <LineChart width={W} height={plotH + extra} margin={margin}>
        <XAxis
          dataKey="age"
          type="number"
          domain={[AGE_MIN, AGE_MAX]}
          allowDataOverflow
          hide={!p.xAxis}
          height={extra}
          ticks={xTicks}
          interval={0}
          tickLine={false}
          axisLine={{ stroke: "#000", strokeWidth: 3 }}
          tick={makeXTick(plotH)}
        />
        <YAxis
          type="number"
          orientation={p.side}
          width={Y_AXIS_W}
          domain={domain}
          reversed={p.reversed}
          allowDataOverflow
          ticks={p.ticks}
          interval={0}
          tickLine={false}
          axisLine={false}
          tick={makeYTick(p.axisPx, p.side, p.labelled)}
        />
        <ReferenceLine
          segment={[{ x: axisAge, y: p.line[0] }, { x: axisAge, y: p.line[1] }]}
          stroke="#000"
          strokeWidth={3}
          ifOverflow="visible"
        />
        {p.series.map((s, i) => (
          <Line
            key={p.id + i}
            data={s.data}
            dataKey="v"
            type="linear"
            stroke={s.color}
            strokeWidth={s.width}
            strokeLinejoin="round"
            dot={false}
            activeDot={false}
            connectNulls={false}
            isAnimationActive={false}
          />
        ))}
      </LineChart>
    </div>
  );
}

function Overlay() {
  return (
    <svg width={W} height={H} style={{ position: "absolute", left: 0, top: 0, pointerEvents: "none" }}>
      {/* leader from the Villar label to its record */}
      <line x1={305} x2={333} y1={290} y2={290} stroke="#a334e0" strokeWidth={2} />
      {MARK_GROUPS.map((g, gi) =>
        g.marks.map(([t, x, y], i) => (
          <text
            key={gi + "-" + i}
            x={x}
            y={y}
            fill={g.color}
            fontSize={g.size}
            fontWeight="bold"
            fontFamily={FONT}
            textAnchor={g.anchor || "middle"}
            dominantBaseline="central"
          >
            {t}
          </text>
        ))
      )}
      {AXIS_TITLES.map((t, i) => (
        <text
          key={"t" + i}
          transform={`translate(${t.x},${t.y}) rotate(-90)`}
          textAnchor="middle"
          dominantBaseline="central"
          fill={t.color}
          fontSize={19}
          fontWeight="bold"
          fontFamily={FONT}
        >
          <tspan fontWeight="normal">δ</tspan>
          <tspan fontSize={12} dy={-7}>{t.iso}</tspan>
          <tspan dy={7}>{t.rest}</tspan>
        </text>
      ))}
      <text x={395} y={1422} textAnchor="middle" dominantBaseline="central" fontSize={20} fontWeight="bold" fontFamily={FONT} fill="#000">
        Age (kyr BP)
      </text>
    </svg>
  );
}

export default function App() {
  return (
    <div style={{ position: "absolute", left: 0, top: 0, width: W, height: H, background: "#fff", overflow: "hidden", fontFamily: FONT }}>
      <div style={{ position: "absolute", left: 0, top: 30, width: 11, height: 1395, background: "#dfe9f5" }} />
      <div style={{ position: "absolute", left: 0, top: 315, width: 11, height: 1060, background: "#9fbfe2" }} />
      {PANELS.map((p) => (
        <Panel key={p.id} p={p} />
      ))}
      <Overlay />
    </div>
  );
}
